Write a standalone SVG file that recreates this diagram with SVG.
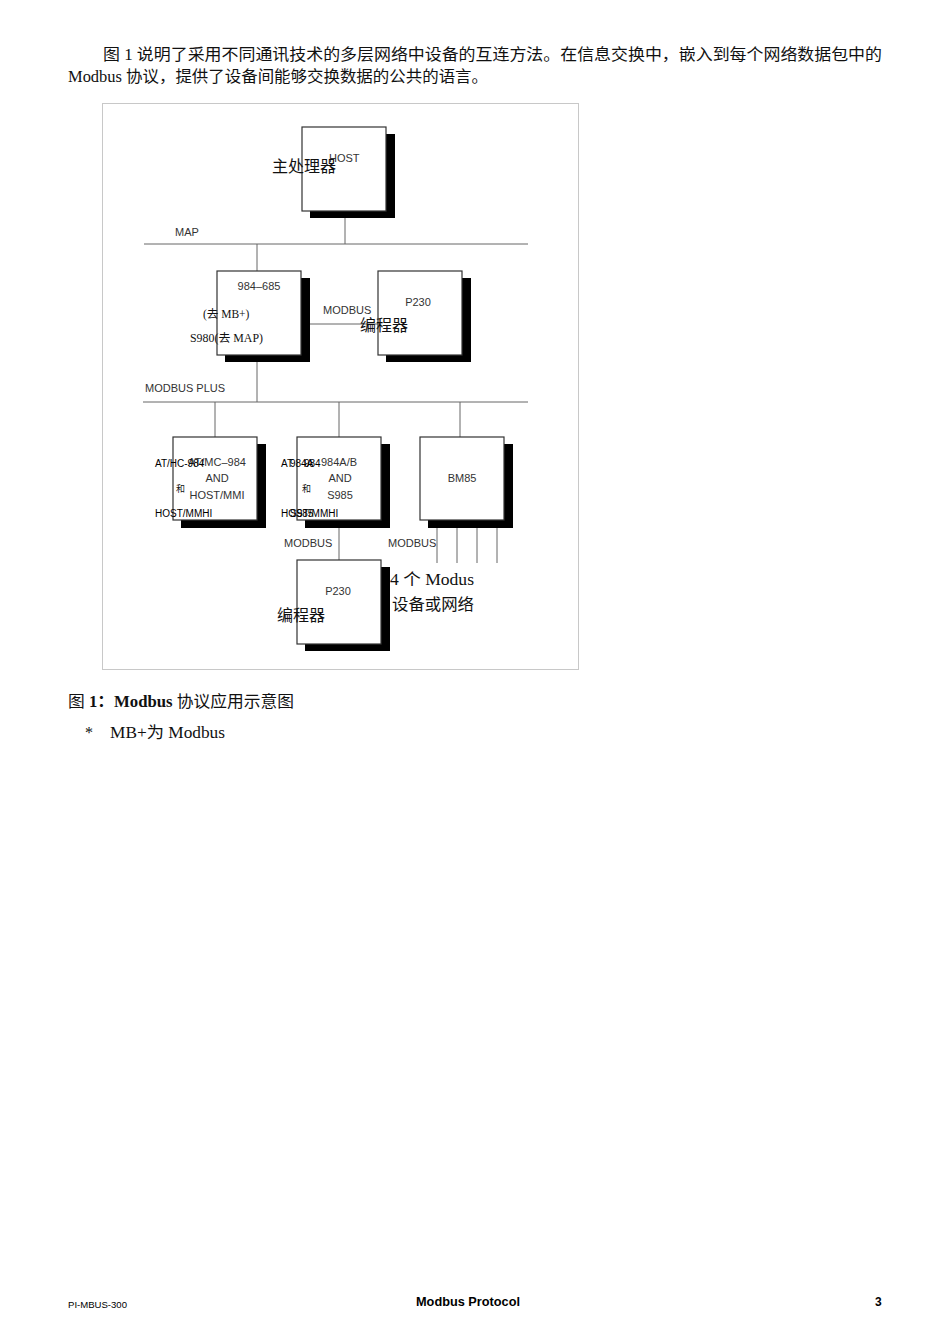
<svg xmlns="http://www.w3.org/2000/svg" width="950" height="1344" viewBox="0 0 950 1344">
<style>
.cn{font-family:"Liberation Serif","Noto Sans CJK SC",serif;fill:#111}
.lbl{font-family:"Liberation Sans",Arial,sans-serif;font-size:11px;fill:#333}
.blk{font-family:"Liberation Sans",Arial,sans-serif;font-size:10px;fill:#000}
.box{fill:#fff;stroke:#333;stroke-width:1.2}
.sh{fill:#000}
.ln{stroke:#666;stroke-width:1;fill:none}
</style>
<rect width="950" height="1344" fill="#fff"/>
<text class="cn" x="103" y="60" font-size="16" textLength="779" lengthAdjust="spacingAndGlyphs">图 1 说明了采用不同通讯技术的多层网络中设备的互连方法。在信息交换中，嵌入到每个网络数据包中的</text>
<text class="cn" x="68" y="82" font-size="16" textLength="420" lengthAdjust="spacingAndGlyphs">Modbus 协议，提供了设备间能够交换数据的公共的语言。</text>
<rect x="102.5" y="103.5" width="476" height="566" fill="none" stroke="#c8c8c8" stroke-width="1"/>
<g id="connectors">
<line class="ln" x1="144" y1="244" x2="528" y2="244"/>
<line class="ln" x1="345" y1="218" x2="345" y2="244"/>
<line class="ln" x1="257" y1="244" x2="257" y2="271"/>
<line class="ln" x1="301" y1="324" x2="378" y2="324"/>
<line class="ln" x1="143" y1="402" x2="528" y2="402"/>
<line class="ln" x1="257" y1="362" x2="257" y2="402"/>
<line class="ln" x1="215" y1="402" x2="215" y2="437"/>
<line class="ln" x1="339" y1="402" x2="339" y2="437"/>
<line class="ln" x1="460" y1="402" x2="460" y2="437"/>
<line class="ln" x1="339" y1="528" x2="339" y2="560"/>
<line class="ln" x1="437" y1="528" x2="437" y2="563"/>
<line class="ln" x1="457" y1="528" x2="457" y2="563"/>
<line class="ln" x1="477" y1="528" x2="477" y2="563"/>
<line class="ln" x1="497" y1="528" x2="497" y2="563"/>
<text class="lbl" x="175" y="236">MAP</text>
<text class="lbl" x="145" y="392">MODBUS PLUS</text>
<text class="lbl" x="323" y="314">MODBUS</text>
<text class="lbl" x="284" y="547">MODBUS</text>
<text class="lbl" x="388" y="547">MODBUS</text>
</g>
<g id="host">
<rect class="sh" x="310" y="134" width="85" height="84"/>
<rect class="box" x="302" y="127" width="84" height="84"/>
<text class="lbl" x="329" y="162">HOST</text>
<text class="cn" x="272" y="172" font-size="16">主处理器</text>
</g>
<g id="plc984685">
<rect class="sh" x="225" y="278" width="85" height="84"/>
<rect class="box" x="217" y="271" width="84" height="84"/>
<text class="lbl" x="259" y="290" text-anchor="middle">984–685</text>
<text class="cn" x="203" y="318" font-size="11.5">(去 MB+)</text>
<text class="cn" x="190" y="342" font-size="11.5" textLength="73" lengthAdjust="spacingAndGlyphs">S980(去 MAP)</text>
</g>
<g id="p230top">
<rect class="sh" x="386" y="278" width="85" height="84"/>
<rect class="box" x="378" y="271" width="84" height="84"/>
<text class="lbl" x="418" y="306" text-anchor="middle">P230</text>
<text class="cn" x="360" y="331" font-size="16">编程器</text>
</g>
<g id="atmc984">
<rect class="sh" x="181" y="444" width="85" height="84"/>
<rect class="box" x="173" y="437" width="84" height="83"/>
<text class="lbl" x="217" y="466" text-anchor="middle" fill="#444">AT/MC–984</text>
<text class="lbl" x="217" y="482" text-anchor="middle">AND</text>
<text class="lbl" x="217" y="499" text-anchor="middle">HOST/MMI</text>
<text class="blk" x="155" y="467">AT/HC-984</text>
<text class="cn" x="176" y="492" font-size="9">和</text>
<text class="blk" x="155" y="517">HOST/MMHI</text>
</g>
<g id="plc984ab">
<rect class="sh" x="305" y="444" width="85" height="84"/>
<rect class="box" x="297" y="437" width="84" height="83"/>
<text class="lbl" x="339" y="466" text-anchor="middle" fill="#444">984A/B</text>
<text class="lbl" x="340" y="482" text-anchor="middle">AND</text>
<text class="lbl" x="340" y="499" text-anchor="middle">S985</text>
<text class="blk" x="281" y="467">AT</text>
<text class="blk" x="290" y="467">984A</text>
<text class="blk" x="304" y="467">984</text>
<text class="cn" x="302" y="492" font-size="9">和</text>
<text class="blk" x="281" y="517">HOST/MMHI</text>
<text class="blk" x="290" y="517">S985</text>
</g>
<g id="bm85">
<rect class="sh" x="428" y="444" width="85" height="84"/>
<rect class="box" x="420" y="437" width="84" height="83"/>
<text class="lbl" x="462" y="482" text-anchor="middle">BM85</text>
</g>
<g id="p230bottom">
<rect class="sh" x="305" y="567" width="85" height="84"/>
<rect class="box" x="297" y="560" width="84" height="84"/>
<text class="lbl" x="338" y="595" text-anchor="middle">P230</text>
<text class="cn" x="277" y="621" font-size="16">编程器</text>
</g>
<g id="devices">
<text class="cn" x="390" y="585" font-size="16" textLength="84" lengthAdjust="spacingAndGlyphs">4 个 Modus</text>
<text class="cn" x="392" y="610" font-size="16" textLength="82" lengthAdjust="spacingAndGlyphs">设备或网络</text>
</g>
<text class="cn" x="68" y="707" font-size="16" textLength="226" lengthAdjust="spacingAndGlyphs">图 <tspan font-weight="bold">1：Modbus</tspan> 协议应用示意图</text>
<text class="cn" x="85" y="738" font-size="16">*</text>
<text class="cn" x="110" y="738" font-size="16" textLength="115" lengthAdjust="spacingAndGlyphs">MB+为  Modbus</text>
<text font-family="'Liberation Sans',Arial,sans-serif" font-size="9.5" x="68" y="1308" fill="#000" textLength="59" lengthAdjust="spacingAndGlyphs">PI-MBUS-300</text>
<text font-family="'Liberation Sans',Arial,sans-serif" font-size="12.5" font-weight="bold" x="416" y="1306" fill="#000" textLength="104" lengthAdjust="spacingAndGlyphs">Modbus Protocol</text>
<text font-family="'Liberation Sans',Arial,sans-serif" font-size="12" font-weight="bold" x="875" y="1306" fill="#000">3</text>
</svg>
